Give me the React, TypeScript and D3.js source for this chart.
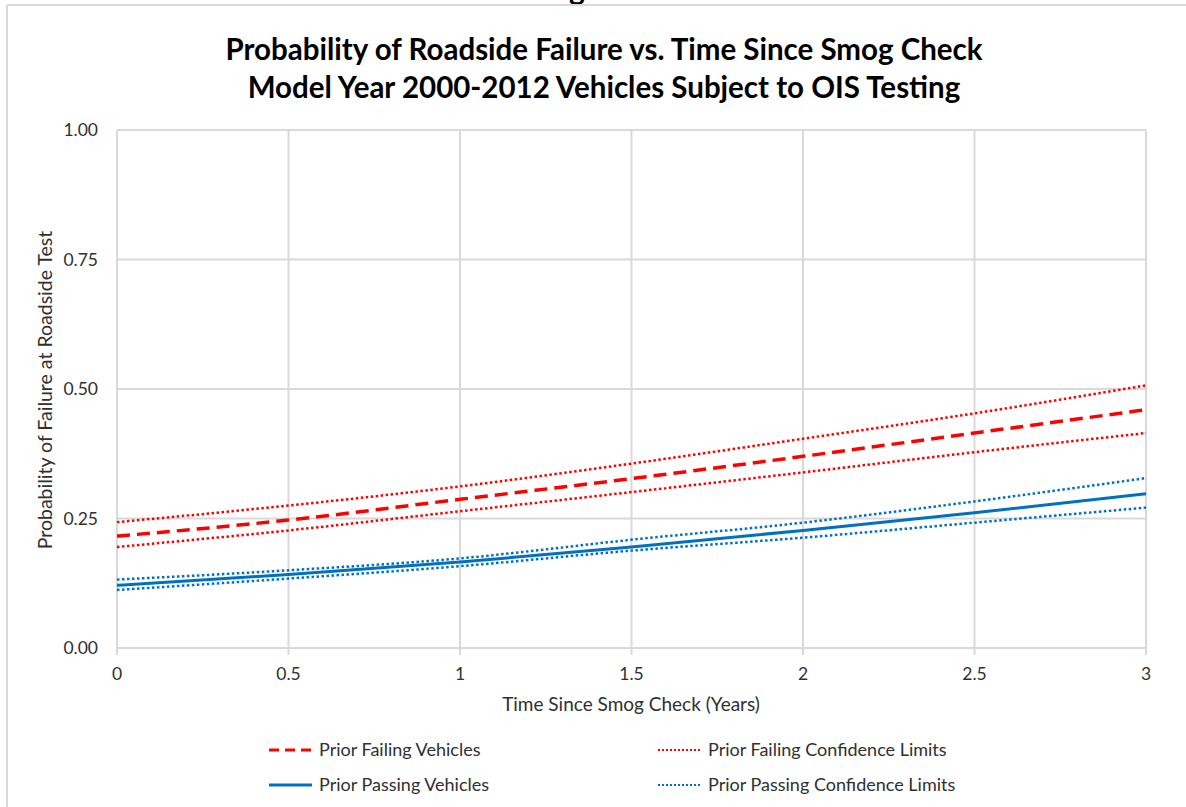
import React from "react";
import * as d3 from "d3";

const xValues = [0, 0.5, 1, 1.5, 2, 2.5, 3];
const failingMean = [0.216, 0.247, 0.287, 0.327, 0.37, 0.415, 0.46];
const failingUpper = [0.243, 0.275, 0.312, 0.356, 0.404, 0.453, 0.507];
const failingLower = [0.195, 0.227, 0.264, 0.301, 0.339, 0.378, 0.415];
const passingMean = [0.121, 0.142, 0.166, 0.195, 0.227, 0.261, 0.298];
const passingUpper = [0.132, 0.15, 0.173, 0.209, 0.242, 0.283, 0.328];
const passingLower = [0.112, 0.134, 0.158, 0.188, 0.213, 0.242, 0.271];

const xTicks = [0, 0.5, 1, 1.5, 2, 2.5, 3];
const xTickLabels = ["0", "0.5", "1", "1.5", "2", "2.5", "3"];
const yTicks = [0, 0.25, 0.5, 0.75, 1];
const yTickLabels = ["0.00", "0.25", "0.50", "0.75", "1.00"];

const titleLines = [
  "Probability of Roadside Failure vs. Time Since Smog Check",
  "Model Year 2000-2012 Vehicles Subject to OIS Testing",
];
const xTitle = "Time Since Smog Check (Years)";
const yTitle = "Probability of Failure at Roadside Test";

const RED = "#ff0000";
const BLUE = "#0070c0";
const GRID = "#d9d9d9";
const TEXT = "#303030";
const FONT = "Lato, 'Open Sans', sans-serif";

export default function App() {
  const W = 1186;
  const H = 807;
  const x = d3.scaleLinear().domain([0, 3]).range([117, 1146]);
  const y = d3.scaleLinear().domain([0, 1]).range([648, 130]);

  const line = (vals: number[]) =>
    d3
      .line<number>()
      .x((_, i) => x(xValues[i]))
      .y((d) => y(d))
      .curve(d3.curveMonotoneX)(vals) as string;

  const series = [
    { vals: failingUpper, color: RED, w: 2.5, dash: "2.5,2.5" },
    { vals: failingLower, color: RED, w: 2.5, dash: "2.5,2.5" },
    { vals: passingUpper, color: BLUE, w: 2.5, dash: "2.5,2.5" },
    { vals: passingLower, color: BLUE, w: 2.5, dash: "2.5,2.5" },
    { vals: failingMean, color: RED, w: 3.5, dash: "13,7" },
    { vals: passingMean, color: BLUE, w: 3, dash: "" },
  ];

  const legend = [
    { label: "Prior Failing Vehicles", color: RED, w: 3, dash: "10,6", x: 269, y: 750 },
    { label: "Prior Passing Vehicles", color: BLUE, w: 3, dash: "", x: 269, y: 785 },
    { label: "Prior Failing Confidence Limits", color: RED, w: 2, dash: "2,2", x: 658, y: 750 },
    { label: "Prior Passing Confidence Limits", color: BLUE, w: 2, dash: "2,2", x: 658, y: 785 },
  ];

  return (
    <svg
      width={W}
      height={H}
      style={{ position: "absolute", left: 0, top: 0, background: "#fff" }}
    >
      <rect x={0} y={0} width={W} height={H} fill="#fff" />
      {/* cropped heading descender */}
      <text x={577} y={0} textAnchor="middle" fontFamily={FONT} fontWeight={700} fontSize={30} fill="#000">
        g
      </text>
      {/* chart frame */}
      <line x1={7} y1={5} x2={W} y2={5} stroke={GRID} strokeWidth={2} />
      <line x1={7} y1={5} x2={7} y2={H} stroke={GRID} strokeWidth={2} />

      {/* title */}
      {titleLines.map((t, i) => (
        <text
          key={t}
          x={604}
          y={60 + i * 38}
          textAnchor="middle"
          fontFamily={FONT}
          fontWeight={700}
          fontSize={29.5}
          fill="#000"
        >
          {t}
        </text>
      ))}

      {/* gridlines */}
      {yTicks.map((t) => (
        <line key={"gy" + t} x1={x(0)} x2={x(3)} y1={y(t)} y2={y(t)} stroke={GRID} strokeWidth={2} />
      ))}
      {xTicks.map((t) => (
        <line key={"gx" + t} x1={x(t)} x2={x(t)} y1={y(1)} y2={y(0) + 7} stroke={GRID} strokeWidth={2} />
      ))}

      {/* tick labels */}
      {yTicks.map((t, i) => (
        <text
          key={"ly" + t}
          x={98}
          y={y(t) + 6}
          textAnchor="end"
          fontFamily={FONT}
          fontSize={17.5}
          fill={TEXT}
        >
          {yTickLabels[i]}
        </text>
      ))}
      {xTicks.map((t, i) => (
        <text
          key={"lx" + t}
          x={x(t)}
          y={y(0) + 32}
          textAnchor="middle"
          fontFamily={FONT}
          fontSize={17.5}
          fill={TEXT}
        >
          {xTickLabels[i]}
        </text>
      ))}

      {/* axis titles */}
      <text x={631} y={711} textAnchor="middle" fontFamily={FONT} fontSize={19} fill={TEXT}>
        {xTitle}
      </text>
      <text
        transform={`translate(52, 390) rotate(-90)`}
        textAnchor="middle"
        fontFamily={FONT}
        fontSize={19.5}
        fill={TEXT}
      >
        {yTitle}
      </text>

      {/* series */}
      {series.map((s, i) => (
        <path
          key={"s" + i}
          d={line(s.vals)}
          fill="none"
          stroke={s.color}
          strokeWidth={s.w}
          strokeDasharray={s.dash || undefined}
        />
      ))}

      {/* legend */}
      {legend.map((l) => (
        <g key={l.label}>
          <line
            x1={l.x}
            x2={l.x + 43}
            y1={l.y}
            y2={l.y}
            stroke={l.color}
            strokeWidth={l.w}
            strokeDasharray={l.dash || undefined}
          />
          <text x={l.x + 50} y={l.y + 6} fontFamily={FONT} fontSize={18} fill={TEXT}>
            {l.label}
          </text>
        </g>
      ))}
    </svg>
  );
}
